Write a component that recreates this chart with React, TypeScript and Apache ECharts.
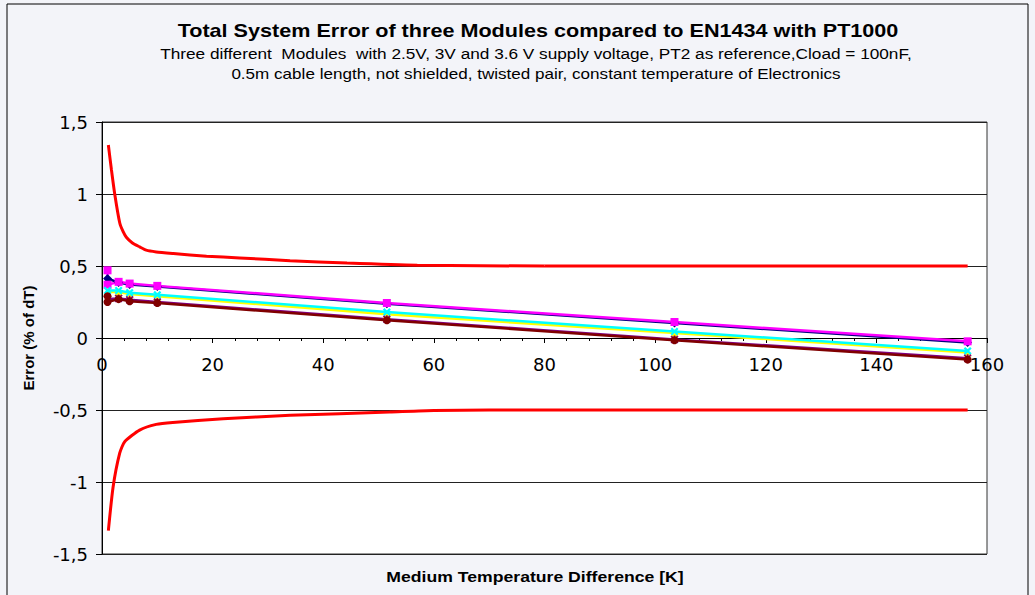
import React, { useEffect, useRef } from "react";
import * as echarts from "echarts";

// ---- data ----
const moduleX = [1, 3, 5, 10, 51.5, 103.5, 156.5];
const navyY = [0.413, 0.385, 0.372, 0.357, 0.238, 0.104, -0.032];
const magentaX = [1, 1, 3, 5, 10, 51.5, 103.5, 156.5];
const magentaY = [0.47, 0.37, 0.39, 0.378, 0.362, 0.243, 0.111, -0.023];
const yellowY = [0.32, 0.32, 0.305, 0.29, 0.165, 0.035, -0.1];
const cyanY = [0.33, 0.33, 0.315, 0.3, 0.18, 0.045, -0.09];
const purpleY = [0.27, 0.275, 0.265, 0.25, 0.13, -0.01, -0.14];
const darkRedX = [1, 1, 3, 5, 10, 51.5, 103.5, 156.5];
const darkRedY = [0.29, 0.25, 0.27, 0.255, 0.243, 0.123, -0.016, -0.15];

const upperLimitX = [1.15, 1.7, 2.3, 3.2, 3.8, 4.4, 5.5, 6.8, 8, 9.8, 12.9, 18.9, 24.9, 34, 44.3, 57, 80, 103.5, 130, 156.5];
const upperLimitY = [1.34, 1.17, 1.0, 0.8, 0.74, 0.7, 0.66, 0.633, 0.61, 0.598, 0.587, 0.568, 0.556, 0.537, 0.52, 0.505, 0.5, 0.5, 0.5, 0.5];
const lowerLimitX = [1.15, 2.0, 3.2, 4.1, 6.8, 9.8, 12.8, 21.9, 34, 52, 60, 80, 103.5, 130, 156.5];
const lowerLimitY = [-1.338, -1.036, -0.8, -0.72, -0.64, -0.6, -0.586, -0.56, -0.537, -0.514, -0.503, -0.5, -0.5, -0.5, -0.5];

const titleText = "Total System Error of three Modules compared to EN1434 with PT1000";
const subtitle1 = "Three different  Modules  with 2.5V, 3V and 3.6 V supply voltage, PT2 as reference,Cload = 100nF,";
const subtitle2 = "0.5m cable length, not shielded, twisted pair, constant temperature of Electronics";
const xAxisName = "Medium Temperature Difference [K]";
const yAxisName = "Error (% of dT)";

const pair = (xs: number[], ys: number[]) => xs.map((x, i) => [x, ys[i]]);

const X_SYMBOL = "path://M2,0 L5,3 L8,0 L10,2 L7,5 L10,8 L8,10 L5,7 L2,10 L0,8 L3,5 L0,2 Z";
const STAR_SYMBOL =
  "path://M4,0 L6,0 L6,10 L4,10 Z M1.5,0 L5,3.5 L8.5,0 L10,1.5 L6.5,5 L10,8.5 L8.5,10 L5,6.5 L1.5,10 L0,8.5 L3.5,5 L0,1.5 Z";

export default function App() {
  const ref = useRef<HTMLDivElement>(null);
  useEffect(() => {
    if (!ref.current) return;
    const chart = echarts.init(ref.current, undefined, { renderer: "svg" });
    const font = "Arial, 'Liberation Sans', sans-serif";
    const tickFont = "'DejaVu Sans', Arial, sans-serif";
    const moduleSeries = (
      name: string,
      data: number[][],
      color: string,
      symbol: string,
      size: number
    ) => ({
      name,
      type: "line",
      data,
      symbol,
      symbolSize: size,
      showAllSymbol: true,
      lineStyle: { color, width: 2.5 },
      itemStyle: { color, borderWidth: 0 },
    });
    const centeredText = (
      text: string,
      x: number,
      y: number,
      f: string,
      scaleX: number
    ) => ({
      type: "text",
      x,
      y,
      scaleX,
      style: {
        text,
        font: f,
        fill: "#000",
        textAlign: "center",
        textVerticalAlign: "middle",
      },
    });
    chart.setOption({
      animation: false,
      backgroundColor: "#f3f4f9",
      textStyle: { fontFamily: font },
      graphic: [
        {
          type: "rect",
          shape: { x: 7, y: 4, width: 1021, height: 600 },
          style: { fill: "none", stroke: "#000", lineWidth: 1 },
          silent: true,
        },
        centeredText(titleText, 538, 31, `bold 18px ${font}`, 1.2),
        centeredText(subtitle1, 536, 54, `14px ${font}`, 1.23),
        centeredText(subtitle2, 536, 74, `14px ${font}`, 1.22),
        centeredText(xAxisName, 535, 577, `bold 14px ${font}`, 1.26),
      ],
      grid: {
        left: 102,
        right: 48,
        top: 122,
        bottom: 41,
        show: true,
        backgroundColor: "#ffffff",
        borderColor: "#333",
        borderWidth: 1,
      },
      xAxis: {
        type: "value",
        min: 0,
        max: 160,
        interval: 20,
        position: "bottom",
        offset: -216,
        axisLine: { onZero: false, lineStyle: { color: "#000", width: 1 } },
        axisTick: { show: true, length: 5, lineStyle: { color: "#000" } },
        minorTick: { show: true, splitNumber: 5, length: 3, lineStyle: { color: "#000" } },
        splitLine: { show: false },
        axisLabel: { fontSize: 18, color: "#000", margin: 17, fontFamily: tickFont, showMinLabel: true },
      },
      yAxis: {
        type: "value",
        min: -1.5,
        max: 1.5,
        interval: 0.5,
        name: yAxisName,
        nameLocation: "middle",
        nameGap: 66,
        nameTextStyle: { fontSize: 15, fontWeight: "bold", color: "#000", fontFamily: font },
        axisLine: { show: true, lineStyle: { color: "#000", width: 1 } },
        axisTick: { show: true, length: 6, lineStyle: { color: "#000" } },
        splitLine: { show: true, lineStyle: { color: "#222", width: 1 } },
        axisLabel: {
          fontSize: 18,
          color: "#000",
          margin: 14,
          fontFamily: tickFont,
          formatter: (v: number) => String(v).replace(".", ","),
        },
      },
      series: [
        moduleSeries("navy", pair(moduleX, navyY), "#000080", "diamond", 9),
        moduleSeries("magenta", pair(magentaX, magentaY), "#ff00ff", "rect", 8),
        moduleSeries("yellow", pair(moduleX, yellowY), "#ffff00", "triangle", 8),
        moduleSeries("cyan", pair(moduleX, cyanY), "#00ffff", X_SYMBOL, 8),
        moduleSeries("purple", pair(moduleX, purpleY), "#800080", STAR_SYMBOL, 8),
        moduleSeries("darkred", pair(darkRedX, darkRedY), "#800000", "circle", 8),
        {
          name: "upper",
          type: "line",
          data: pair(upperLimitX, upperLimitY),
          symbol: "none",
          smooth: 0.2,
          lineStyle: { color: "#ff0000", width: 3 },
        },
        {
          name: "lower",
          type: "line",
          data: pair(lowerLimitX, lowerLimitY),
          symbol: "none",
          smooth: 0.2,
          lineStyle: { color: "#ff0000", width: 3 },
        },
      ],
    });
    return () => chart.dispose();
  }, []);
  return (
    <div
      ref={ref}
      style={{ position: "fixed", left: 0, top: 0, width: 1035, height: 595 }}
    />
  );
}
